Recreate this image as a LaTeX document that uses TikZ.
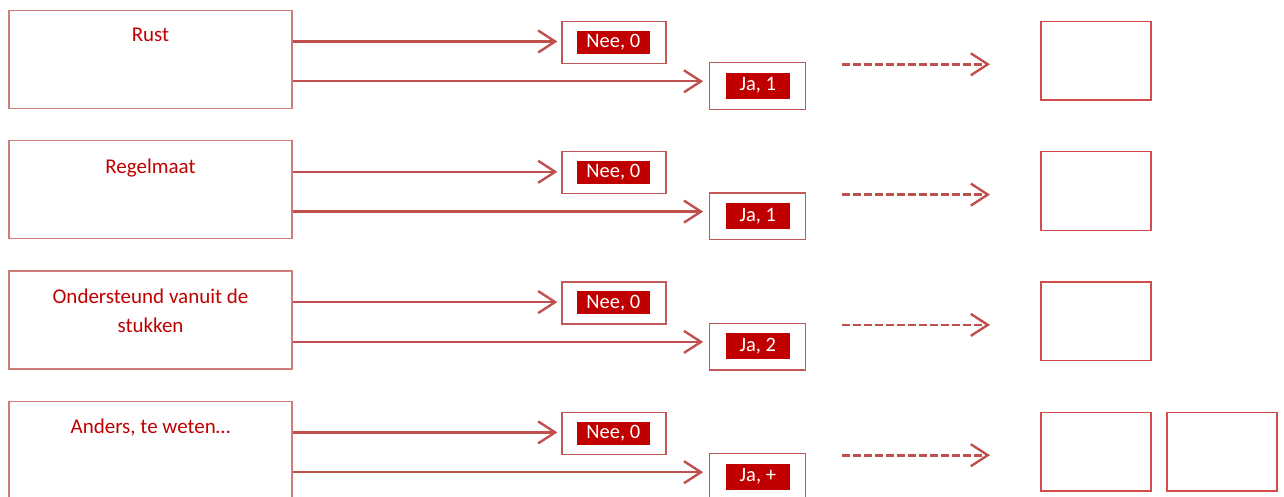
\documentclass[tikz,border=0pt]{standalone}
\usepackage{fontspec}
\setmainfont{Carlito}
\usetikzlibrary{arrows.meta}
\definecolor{darkred}{HTML}{C00000}
\definecolor{accent}{HTML}{C0504D}
\tikzset{
  boxline/.style={draw=accent!75, line width=1.3pt},
  leftbox/.style={boxline, rectangle, minimum width=283pt, minimum height=98pt, inner sep=0pt},
  answerbox/.style={draw=accent!95, line width=1.3pt, rectangle, inner sep=0pt},
  fillbox/.style={fill=darkred, text=white, rectangle, inner sep=0pt, font=\fontsize{20.5}{23}\selectfont},
  emptybox/.style={draw=darkred!70, line width=1.5pt, rectangle, minimum width=110pt, minimum height=78.5pt, inner sep=0pt},
  lbl/.style={text=darkred, font=\fontsize{21}{29}\selectfont, align=center, inner sep=0pt},
  link/.style={draw=accent, line width=2.4pt, -{Straight Barb[length=17pt,width=22pt,line width=2.4pt]}},
  dlink/.style={link, line width=2.6pt, dash pattern=on 7.5pt off 3.5pt}
}
\begin{document}
\begin{tikzpicture}[x=1pt,y=-1pt]
\useasboundingbox (0,0) rectangle (1284,497);
\foreach \i/\txt/\ja in {0/Rust/{Ja, 1},1/Regelmaat/{Ja, 1},2/{Ondersteund vanuit de\\stukken}/{Ja, 2},3/{Anders, te weten\ldots}/{Ja, +}}{
  \begin{scope}[yshift=-130.3*\i pt]
    % question box with its title
    \node[leftbox] (q\i) at (150.5,59.5) {};
    \node[lbl, anchor=north] (t\i) at (150.5,28) {\txt};
    % answer boxes
    \node[answerbox, minimum width=104pt, minimum height=42pt] (nee\i) at (614,42.3) {};
    \node[fillbox, minimum width=73pt, minimum height=23pt] (neef\i) at (613.3,42.3) {Nee, 0};
    \node[answerbox, minimum width=96pt, minimum height=46.6pt] (ja\i) at (757.8,86) {};
    \node[fillbox, minimum width=64pt, minimum height=26pt] (jaf\i) at (757.8,85.7) {\ja};
    % outcome box
    \node[emptybox] (r\i) at (1096,60.7) {};
    \coordinate (ds\i) at (842,64.3);
    \coordinate (de\i) at (990,64.3);
    % connectors
    \draw[link] (q\i.east |- 0,41.5) -- ([xshift=-4pt]nee\i.west |- 0,41.5);
    \draw[link] (q\i.east |- 0,81.3) -- ([xshift=-6pt]ja\i.west |- 0,81.3);
    \draw[dlink] (ds\i) -- (de\i);
  \end{scope}
}
\node[emptybox] (r4) at (1222,451.5) {};
\end{tikzpicture}
\end{document}
